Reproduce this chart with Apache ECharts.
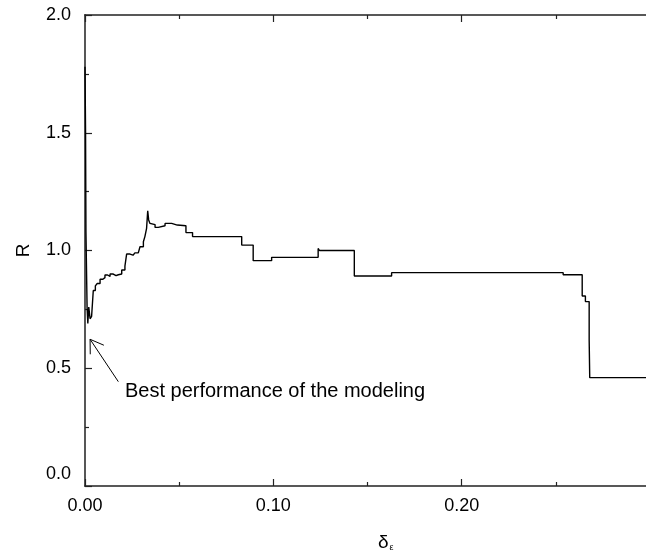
<!DOCTYPE html>
<html>
<head>
<meta charset="utf-8">
<script src="https://cdn.jsdelivr.net/npm/echarts@6/dist/echarts.min.js"></script>
<style>
  html, body { margin: 0; padding: 0; background: #fff; }
  #chart { width: 646px; height: 557px; }
</style>
</head>
<body>
<div id="chart"></div>
<script>
// delta_eps (x) and R (y), step values
var deltaE = [0, 0.0003, 0.0005, 0.0008, 0.0011, 0.0015, 0.002, 0.0027, 0.0035, 0.0044,
  0.0055, 0.0065, 0.008, 0.0095, 0.0106, 0.012, 0.0133, 0.015, 0.0165, 0.0177,
  0.0195, 0.0212, 0.0221, 0.0239, 0.0255, 0.0265, 0.0283, 0.0292, 0.031, 0.0318,
  0.0327, 0.0333, 0.0338, 0.0345, 0.0354, 0.0372, 0.0389, 0.0425, 0.046, 0.049,
  0.0536, 0.0571, 0.0832, 0.0893, 0.0991, 0.1238, 0.1245, 0.143, 0.1628, 0.2539,
  0.264, 0.2657, 0.2677, 0.268, 0.3];
var rValues = [1.78, 1.5, 1.08, 0.92, 0.76, 0.69, 0.76, 0.71, 0.72, 0.83,
  0.85, 0.86, 0.878, 0.885, 0.896, 0.89, 0.9, 0.893, 0.897, 0.9,
  0.917, 0.934, 0.985, 0.98, 0.985, 0.99, 0.995, 1.016, 1.037, 1.059,
  1.094, 1.169, 1.13, 1.115, 1.11, 1.098, 1.105, 1.115, 1.108, 1.105,
  1.076, 1.059, 1.023, 0.957, 0.971, 1.009, 1.0, 0.892, 0.906, 0.897,
  0.807, 0.783, 0.62, 0.46, 0.46];

var xTickLabels = ['0.00', '0.10', '0.20'];
var yTickLabels = ['0.0', '0.5', '1.0', '1.5', '2.0'];

// annotation (data coords)
var noteText = 'Best performance of the modeling';
var arrowTip = [0.0027, 0.623];
var arrowTail = [0.0177, 0.443];
var notePos = [0.0212, 0.40];

var FONT = 'Liberation Sans';

var seriesData = [];
for (var i = 0; i < deltaE.length; i++) {
	seriesData.push([deltaE[i], rValues[i]]);
}

var myChart = echarts.init(document.getElementById('chart'), null, {renderer: 'canvas'});

var option = {
	backgroundColor: '#fff',
	animation: false,
	title: {
		text: '{d|δ}{e|ε}',
		left: 378,
		top: 533,
		padding: 0,
		textStyle: {
			fontWeight: 'normal',
			rich: {
				d: {fontSize: 19, fontFamily: FONT, color: '#000', fontWeight: 'normal', verticalAlign: 'bottom'},
				e: {fontSize: 9, fontFamily: FONT, color: '#000', fontWeight: 'normal', verticalAlign: 'bottom', padding: [10, 0, 0, 1]}
			}
		}
	},
	grid: {
		left: 85,
		right: -4,
		top: 15,
		bottom: 71,
		containLabel: false,
		outerBoundsMode: 'none'
	},
	xAxis: [{
		type: 'value',
		min: 0,
		max: 0.3,
		interval: 0.1,
		axisLine: {lineStyle: {color: '#222', width: 1.5}},
		axisTick: {inside: true, length: 7, lineStyle: {color: '#222', width: 1.2}},
		minorTick: {show: true, splitNumber: 2, length: 4, lineStyle: {color: '#222', width: 1.2}},
		splitLine: {show: false},
		axisLabel: {
			margin: 11,
			fontSize: 18,
			fontFamily: FONT,
			color: '#000',
			formatter: function(v) {
				var k = Math.round(v * 10);
				return k < xTickLabels.length ? xTickLabels[k] : '';
			}
		}
	}, {
		type: 'value',
		position: 'top',
		min: 0,
		max: 0.3,
		interval: 0.1,
		axisLine: {lineStyle: {color: '#222', width: 1.5}},
		axisTick: {inside: true, length: 7, lineStyle: {color: '#222', width: 1.2}},
		minorTick: {show: true, splitNumber: 2, length: 4, lineStyle: {color: '#222', width: 1.2}},
		splitLine: {show: false},
		axisLabel: {show: false}
	}],
	yAxis: {
		type: 'value',
		min: 0,
		max: 2,
		interval: 0.5,
		name: 'R',
		nameLocation: 'middle',
		nameRotate: 90,
		nameGap: 52,
		nameTextStyle: {fontSize: 19, fontFamily: FONT, color: '#000'},
		axisLine: {lineStyle: {color: '#444', width: 1.8}},
		axisTick: {inside: true, length: 7, lineStyle: {color: '#222', width: 1.2}},
		minorTick: {show: true, splitNumber: 2, length: 4, lineStyle: {color: '#222', width: 1.2}},
		splitLine: {show: false},
		axisLabel: {
			margin: 14,
			fontSize: 18,
			fontFamily: FONT,
			color: '#000',
			formatter: function(v) {
				var k = Math.round(v * 2);
				if (k === 0) return '{z|' + yTickLabels[0] + '}';
				return yTickLabels[k];
			},
			rich: {
				z: {fontSize: 18, fontFamily: FONT, color: '#000', padding: [0, 0, 24, 0]}
			}
		}
	},
	series: [{
		type: 'line',
		step: 'end',
		data: seriesData,
		showSymbol: false,
		symbol: 'none',
		lineStyle: {color: '#000', width: 1.4}
	}]
};
myChart.setOption(option);

//箭头和说明文字
var tip = myChart.convertToPixel({xAxisIndex: 0, yAxisIndex: 0}, arrowTip);
var tail = myChart.convertToPixel({xAxisIndex: 0, yAxisIndex: 0}, arrowTail);
var txt = myChart.convertToPixel({xAxisIndex: 0, yAxisIndex: 0}, notePos);
var ang = Math.atan2(tail[1] - tip[1], tail[0] - tip[0]);
var headLen = 15, spread = 33 * Math.PI / 180;
var h1 = [tip[0] + headLen * Math.cos(ang - spread), tip[1] + headLen * Math.sin(ang - spread)];
var h2 = [tip[0] + headLen * Math.cos(ang + spread), tip[1] + headLen * Math.sin(ang + spread)];

myChart.setOption({
	graphic: [{
		type: 'line',
		shape: {x1: tail[0], y1: tail[1], x2: tip[0], y2: tip[1]},
		style: {stroke: '#000', lineWidth: 1}
	}, {
		type: 'polyline',
		shape: {points: [h1, tip, h2]},
		style: {stroke: '#000', lineWidth: 1, fill: null}
	}, {
		type: 'text',
		x: txt[0],
		y: txt[1],
		style: {
			text: noteText,
			fontSize: 20,
			fontFamily: FONT,
			fill: '#000',
			verticalAlign: 'middle',
			align: 'left'
		}
	}]
});
</script>
</body>
</html>
